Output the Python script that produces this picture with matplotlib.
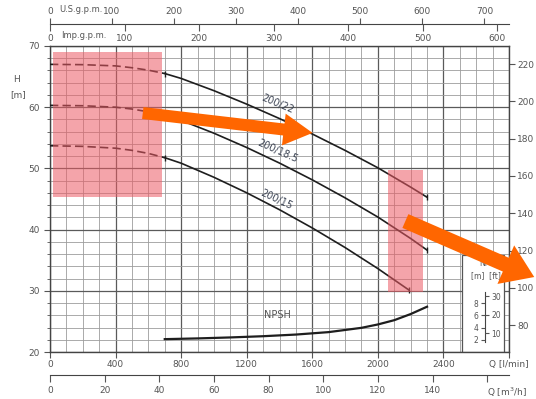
import numpy as np
import matplotlib
matplotlib.use('Agg')
import matplotlib.pyplot as plt
from matplotlib.patches import Rectangle, Polygon
from matplotlib.ticker import MultipleLocator, FixedLocator
import matplotlib.transforms as mtransforms

# ---------------- data ----------------
q_22 = [0, 200, 400, 500, 600, 700, 800, 1000, 1200, 1400, 1600, 1800, 2000, 2200, 2300]
h_22 = [67.0, 66.95, 66.75, 66.45, 66.05, 65.5, 64.7, 62.7, 60.5, 58.14, 55.62, 52.94, 50.1, 46.94, 45.29]
q_185 = [0, 200, 400, 500, 600, 700, 800, 1000, 1200, 1400, 1600, 1800, 2000, 2200, 2300]
h_185 = [60.3, 60.24, 60.0, 59.7, 59.25, 58.65, 57.85, 55.75, 53.41, 50.87, 48.13, 45.19, 42.05, 38.55, 36.65]
q_15 = [0, 200, 400, 500, 600, 700, 800, 1000, 1200, 1400, 1600, 1800, 2000, 2190]
h_15 = [53.7, 53.6, 53.3, 52.95, 52.45, 51.75, 50.85, 48.55, 46.01, 43.25, 40.27, 37.07, 33.63, 30.12]
q_npsh = [700, 900, 1100, 1300, 1500, 1700, 1900, 2000, 2100, 2200, 2300]
npsh = [2.1, 2.22, 2.38, 2.58, 2.85, 3.25, 3.95, 4.5, 5.2, 6.2, 7.4]
q_split = 700  # dashed below this flow

curve_names = ['200/22', '200/18.5', '200/15']
label_pos = [(1389, 60.6, -23), (1389, 52.8, -24), (1383, 44.9, -25)]

q_ticks = [0, 400, 800, 1200, 1600, 2000, 2400, 2800]
q_ticklabels = ['0', '400', '800', '1200', '1600', '2000', '2400', 'Q [l/min]']
h_ticks = [20, 30, 40, 50, 60, 70]
ft_ticks = [80, 100, 120, 140, 160, 180, 200, 220]
us_ticks = [0, 100, 200, 300, 400, 500, 600, 700]
imp_ticks = [0, 100, 200, 300, 400, 500, 600]
m3h_ticks = [0, 20, 40, 60, 80, 100, 120, 140, 160]
m3h_labels = ['0', '20', '40', '60', '80', '100', '120', '140', '']
npsh_m_ticks = [2, 4, 6, 8]
npsh_ft_ticks = [10, 20, 30]

# highlight boxes (Q0, Q1, H0, H1)
boxes = [(16, 686, 45.3, 69.1), (2061, 2274, 29.85, 49.7)]
# arrows: tail (Q,H), tip (Q,H), shaft width px, head width px, head length px
arrows = [((566, 59.05), (1602, 55.8), 12, 32, 29),
          ((2168, 41.4), (2954, 32.25), 15, 42, 31)]

FT = 3.28084
W, H = 536, 399
TXT = '#555555'

fig = plt.figure(figsize=(W / 100, H / 100), dpi=100)
L, R, T, B = 50, 509, 46, 352
ax = fig.add_axes([L / W, 1 - B / H, (R - L) / W, (B - T) / H])
ax.set_xlim(0, 2800)
ax.set_ylim(20, 70)
ax.set_axisbelow(True)

ax.xaxis.set_major_locator(FixedLocator(q_ticks))
ax.set_xticklabels(q_ticklabels)
ax.xaxis.set_minor_locator(MultipleLocator(100))
ax.yaxis.set_major_locator(FixedLocator(h_ticks))
ax.yaxis.set_minor_locator(MultipleLocator(2))
ax.grid(which='major', color='#5a5a5a', lw=0.9)
ax.grid(which='minor', color='#9c9c9c', lw=0.6)
ax.tick_params(axis='both', which='major', labelsize=6.5, colors=TXT, length=4, width=0.8)
ax.tick_params(axis='x', which='minor', length=0)
ax.tick_params(axis='y', which='minor', length=2.5, color=TXT)
ax.tick_params(axis='x', pad=2)
for s in ax.spines.values():
    s.set_color('#444444')
    s.set_linewidth(1.0)

# right ft axis
sec = ax.secondary_yaxis('right', functions=(lambda m: m * FT, lambda f: f / FT))
sec.yaxis.set_major_locator(FixedLocator(ft_ticks))
sec.tick_params(labelsize=6.5, colors=TXT, length=4, pad=2)
sec.spines['right'].set_visible(False)

# curves
for q, h, name, (lx, ly, rot) in zip([q_22, q_185, q_15], [h_22, h_185, h_15],
                                      curve_names, label_pos):
    q = np.array(q); h = np.array(h)
    m1 = q <= q_split
    m2 = q >= q_split
    ax.plot(q[m1], h[m1], color='#1e1e1e', lw=1.2, dashes=(5, 2.5), zorder=3)
    ax.plot(q[m2], h[m2], color='#1e1e1e', lw=1.2, zorder=3)
    ax.plot([q[m2][0], q[-1]], [h[m2][0], h[-1]], ls='none', marker='|', ms=5,
            mew=1.0, color='#1e1e1e', zorder=3)
    ax.text(lx, ly, name, rotation=rot, fontsize=7, color='#3c4454',
            ha='center', va='center', zorder=4)

# NPSH on its own (meter) scale sharing the same pixel mapping
axn = ax.twinx()
axn.set_ylim(0, 50)
axn.set_yticks([])
for s in axn.spines.values():
    s.set_visible(False)
axn.plot(q_npsh, npsh, color='#1e1e1e', lw=1.6, zorder=3)
axn.text(1389, 6.0, 'NPSH', fontsize=7, color='#555555', ha='center', va='center')

# inset white box for NPSH scale
ax.add_patch(Rectangle((2516, 20), 2772 - 2516, 35.85 - 20, facecolor='white',
                       edgecolor='#555555', lw=0.9, zorder=2))

# highlight boxes
for q0, q1, h0, h1 in boxes:
    ax.add_patch(Rectangle((q0, h0), q1 - q0, h1 - h0, facecolor='#ec5a64',
                           alpha=0.55, edgecolor='none', zorder=5))

# inset scale axis
bpos = ax.get_position()
v0, v1 = 1.6, 9.8
axi = fig.add_axes([485 / W, bpos.y0 + v0 / 50 * bpos.height, 1e-6, (v1 - v0) / 50 * bpos.height])
axi.set_ylim(v0, v1)
axi.set_yticks(npsh_m_ticks)
axi.set_xticks([])
axi.patch.set_visible(False)
for k in ['top', 'bottom', 'right']:
    axi.spines[k].set_visible(False)
axi.spines['left'].set_color('#444444')
axi.tick_params(labelsize=5.5, colors=TXT, length=3, pad=1.5)
axi2 = axi.twinx()
axi2.set_ylim(v0 * FT, v1 * FT)
axi2.set_yticks(npsh_ft_ticks)
for s in axi2.spines.values():
    s.set_visible(False)
axi2.tick_params(labelsize=5.5, colors=TXT, length=3, pad=1.5)
fig.text(490 / W, 1 - 263 / H, 'NPSH', fontsize=5.5, color=TXT, ha='center', va='center')
fig.text(486 / W, 1 - 276 / H, '[m]  [ft]', fontsize=5.5, color=TXT, ha='center', va='center')

# top scales (US gpm above the line, Imp gpm below)
ytop = 1 - 24 / H
axus = fig.add_axes([L / W, ytop, (R - L) / W, 1e-6])
axus.set_xlim(0, 2800 / 3.78541)
axus.xaxis.set_major_locator(FixedLocator(us_ticks))
axus.xaxis.set_ticks_position('top')
axus.set_yticks([])
axus.patch.set_visible(False)
for k in ['top', 'left', 'right']:
    axus.spines[k].set_visible(False)
axus.spines['bottom'].set_color('#444444')
axus.tick_params(labelsize=6.5, colors=TXT, length=4, pad=2, direction='out')

aximp = fig.add_axes([L / W, ytop, (R - L) / W, 1e-6])
aximp.set_xlim(0, 2800 / 4.54609)
aximp.xaxis.set_major_locator(FixedLocator(imp_ticks))
aximp.xaxis.set_ticks_position('bottom')
aximp.set_yticks([])
aximp.patch.set_visible(False)
for s in aximp.spines.values():
    s.set_visible(False)
aximp.tick_params(labelsize=6.5, colors=TXT, length=5, pad=2, direction='out')
fig.text(81 / W, 1 - 10 / H, 'U.S.g.p.m.', fontsize=6, color=TXT, ha='center', va='center')
fig.text(84 / W, 1 - 35 / H, 'Imp.g.p.m.', fontsize=6, color=TXT, ha='center', va='center')

# bottom m3/h scale
axm3 = fig.add_axes([L / W, 1 - 375 / H, (R - L) / W, 1e-6])
axm3.set_xlim(0, 2800 * 0.06)
axm3.xaxis.set_major_locator(FixedLocator(m3h_ticks))
axm3.set_xticklabels(m3h_labels)
axm3.set_yticks([])
axm3.patch.set_visible(False)
for k in ['top', 'left', 'right']:
    axm3.spines[k].set_visible(False)
axm3.spines['bottom'].set_color('#444444')
axm3.tick_params(labelsize=6.5, colors=TXT, length=5, pad=3, direction='out')
fig.text(507 / W, 1 - 392 / H, 'Q [m$^3$/h]', fontsize=6.5, color=TXT, ha='center', va='center')

# H label
fig.text(17 / W, 1 - 80 / H, 'H', fontsize=6.5, color=TXT, ha='center', va='center')
fig.text(18 / W, 1 - 95 / H, '[m]', fontsize=6.5, color=TXT, ha='center', va='center')

# orange arrows, built in display space from data endpoints
fig.canvas.draw()
for (t, p, sw, hw, hl) in arrows:
    a = ax.transData.transform(t)
    b = ax.transData.transform(p)
    d = b - a
    n = np.linalg.norm(d)
    u = d / n
    v = np.array([-u[1], u[0]])
    base = b - u * hl
    pts = [a + v * sw / 2, base + v * sw / 2, base + v * hw / 2, b,
           base - v * hw / 2, base - v * sw / 2, a - v * sw / 2]
    poly = Polygon(pts, closed=True, facecolor='#ff6600', edgecolor='none',
                   transform=mtransforms.IdentityTransform(), zorder=10)
    fig.add_artist(poly)

fig.savefig('out.png', dpi=100)
